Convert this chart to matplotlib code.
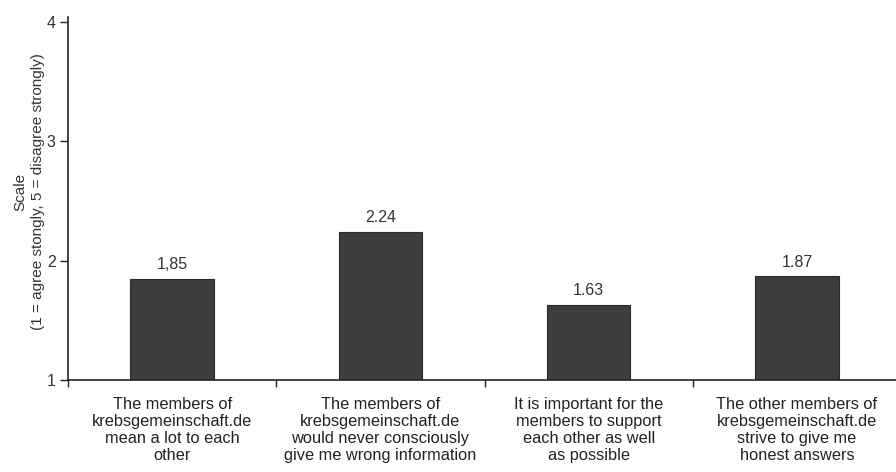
import numpy as np
import matplotlib
matplotlib.use("Agg")
import matplotlib.pyplot as plt

plt.rcParams['font.family'] = ['Liberation Sans', 'DejaVu Sans']

statements = [
    "The members of\nkrebsgemeinschaft.de\nmean a lot to each\nother",
    "The members of\nkrebsgemeinschaft.de\nwould never consciously\ngive me wrong information",
    "It is important for the\nmembers to support\neach other as well\nas possible",
    "The other members of\nkrebsgemeinschaft.de\nstrive to give me\nhonest answers",
]
scores = [1.85, 2.24, 1.63, 1.87]
score_labels = ["1,85", "2.24", "1.63", "1.87"]
yticks = [1, 2, 3, 4]

fig = plt.figure(figsize=(8.96, 4.72), dpi=100)
ax = fig.add_axes([68 / 896, 92 / 472, 833 / 896, 363 / 472])

x = np.arange(len(scores))
bars = ax.bar(x, np.array(scores) - 1, bottom=1, width=0.4,
              color="#3d3d3d", edgecolor="#2a2a2a", linewidth=0.8)

for xi, v, lab in zip(x, scores, score_labels):
    ax.text(xi, v + 0.055, lab, ha="center", va="bottom", fontsize=11.5, color="#333333")

ax.set_xlim(-0.5, 3.5)
ax.set_ylim(1, 4.04)
ax.set_yticks(yticks)
ax.set_yticklabels([str(t) for t in yticks], fontsize=11.5, color="#333333")
ax.set_xticks(x)
ax.set_xticklabels(statements, fontsize=11.8, color="#222222", linespacing=1.17)
ax.tick_params(axis="x", length=0, pad=12)
ax.set_xticks(np.arange(-0.5, 3.5, 1), minor=True)
ax.tick_params(axis="x", which="minor", length=5, width=1, color="#222222")
ax.tick_params(axis="y", length=6, width=1, color="#222222", pad=3)

for s in ["top", "right"]:
    ax.spines[s].set_visible(False)
for s in ["left", "bottom"]:
    ax.spines[s].set_linewidth(1.2)
    ax.spines[s].set_color("#222222")

ax.set_ylabel("Scale\n(1 = agree stongly, 5 = disagree strongly)", fontsize=11,
              color="#333333", linespacing=1.3)
ax.yaxis.set_label_coords(-0.028, 0.518)

fig.savefig("out.png", dpi=100)
